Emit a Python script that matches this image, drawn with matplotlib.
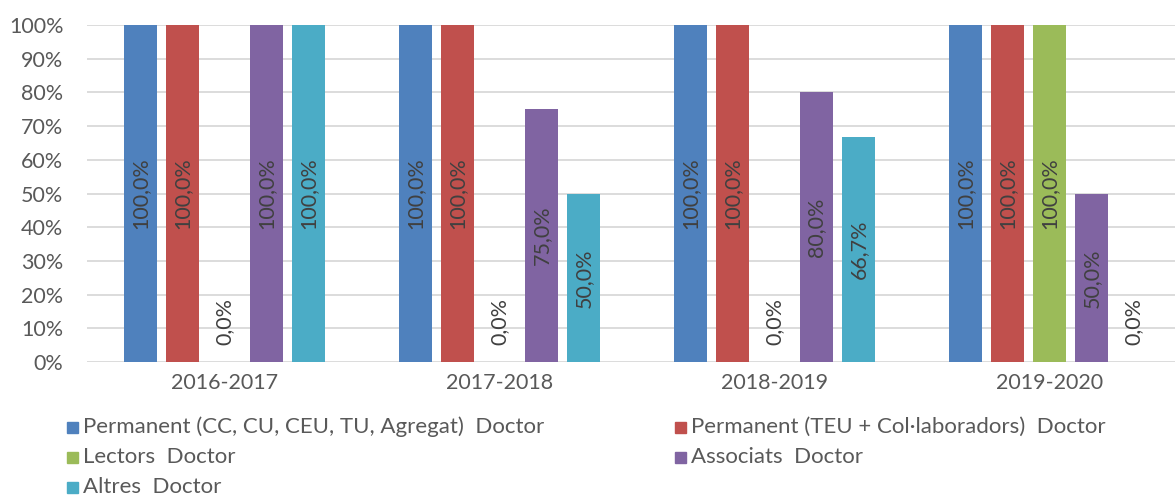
import matplotlib

matplotlib.use("Agg")
import matplotlib.pyplot as plt
from matplotlib.patches import Rectangle
import numpy as np

# data
years = ["2016-2017", "2017-2018", "2018-2019", "2019-2020"]
series = [
    "Permanent (CC, CU, CEU, TU, Agregat)  Doctor",
    "Permanent (TEU + Col·laboradors)  Doctor",
    "Lectors  Doctor",
    "Associats  Doctor",
    "Altres  Doctor",
]
perm_cc = [100.0, 100.0, 100.0, 100.0]
perm_teu = [100.0, 100.0, 100.0, 100.0]
lectors = [0.0, 0.0, 0.0, 100.0]
associats = [100.0, 75.0, 80.0, 50.0]
altres = [100.0, 50.0, 66.7, 0.0]
values = [perm_cc, perm_teu, lectors, associats, altres]
colors = ["#4F81BD", "#C0504D", "#9BBB59", "#8064A2", "#4BACC6"]

TEXT = "#595959"
plt.rcParams["font.family"] = ["Lato", "DejaVu Sans"]

W, H = 1175, 496
fig = plt.figure(figsize=(W / 100, H / 100), dpi=100)
# plot area in pixels: x 87..1187 (cut off at right edge), y 25..362
ax = fig.add_axes([87 / W, 1 - 362 / H, 1100 / W, 337 / H])

x = np.arange(len(years))
step = 0.153
width = 0.12
for i, (vals, col) in enumerate(zip(values, colors)):
    pos = x + (i - 2) * step
    ax.bar(pos, vals, width=width, color=col, zorder=2)
    for px, v in zip(pos, vals):
        lbl = f"{v:.1f}%".replace(".", ",")
        if v > 0:
            ax.text(px, v / 2, lbl, rotation=90, ha="center", va="center",
                    fontsize=15.5, color="#404040", zorder=3)
        else:
            ax.text(px, 5, lbl, rotation=90, ha="center", va="bottom",
                    fontsize=15.5, color="#404040", zorder=3)

ax.set_xlim(-0.5, len(years) - 0.5)
ax.set_ylim(0, 100)
ax.set_yticks(np.arange(0, 101, 10))
ax.set_yticklabels([f"{t}%" for t in range(0, 101, 10)])
ax.set_xticks(x)
ax.set_xticklabels(years)
ax.tick_params(axis="both", length=0, labelsize=15.5, colors=TEXT)
ax.tick_params(axis="y", pad=17)
ax.tick_params(axis="x", pad=8)
ax.grid(axis="y", color="#D9D9D9", linewidth=1.3, zorder=0)
for s in ax.spines.values():
    s.set_visible(False)

# legend, row-first in two columns
leg_x = [67, 675]
leg_y = [427, 457, 487]
for i, (name, col) in enumerate(zip(series, colors)):
    lx = leg_x[i % 2]
    ly = leg_y[i // 2]
    fig.patches.append(Rectangle((lx / W, 1 - (ly + 5.5) / H), 11 / W, 11 / H,
                                 transform=fig.transFigure, color=col))
    fig.text((lx + 16) / W, 1 - ly / H, name, ha="left", va="center",
             fontsize=16, color=TEXT)

fig.savefig("out.png", dpi=100)
